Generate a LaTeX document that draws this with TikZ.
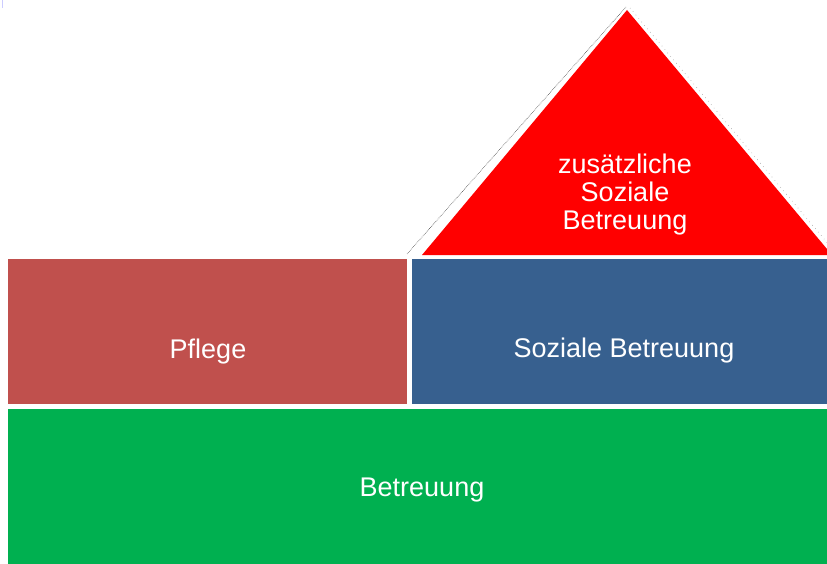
\documentclass[tikz,border=0pt]{standalone}
\usepackage{fontspec}
\setmainfont{Liberation Sans}
\definecolor{pflegered}{HTML}{C0504D}
\definecolor{sozblue}{HTML}{37608F}
\definecolor{betgreen}{HTML}{00B050}
\definecolor{topred}{HTML}{FF0000}
\begin{document}
\begin{tikzpicture}[x=1pt,y=-1pt,
  lbl/.style={text=white,font=\fontsize{27}{28}\selectfont,align=center,inner sep=0pt},
  blk/.style={draw=none}]
\useasboundingbox (0,0) rectangle (827,564);
\fill[white] (0,0) rectangle (827,564);
\begin{scope}
\clip (0,0) rectangle (827,564);
% blocks
\fill[betgreen] (8,409) rectangle (830,570);
\fill[pflegered] (8,259) rectangle (407,404);
\fill[sozblue] (412,259) rectangle (830,404);
% roof
\coordinate (bl) at (422,255);
\coordinate (ap) at (627,10);
\coordinate (br) at (832,255);
\fill[topred] (bl) -- (ap) -- (br) -- cycle;
\draw[black!70,line width=0.6pt,densely dotted] (407,254) -- (626,7);
\draw[black!50,line width=0.5pt,loosely dotted] (630,8) -- (835,252);
% tiny artifact top left
\draw[blue!20,line width=0.8pt] (2,0) -- (2,8);
\end{scope}
\node[lbl] (tri) at (625,195) {zusätzliche\\Soziale\\Betreuung};
\node[lbl] (pf) at (208,352) {Pflege};
\node[lbl] (sb) at (624,351) {Soziale Betreuung};
\node[lbl] (bt) at (422,490) {Betreuung};
\end{tikzpicture}
\end{document}
